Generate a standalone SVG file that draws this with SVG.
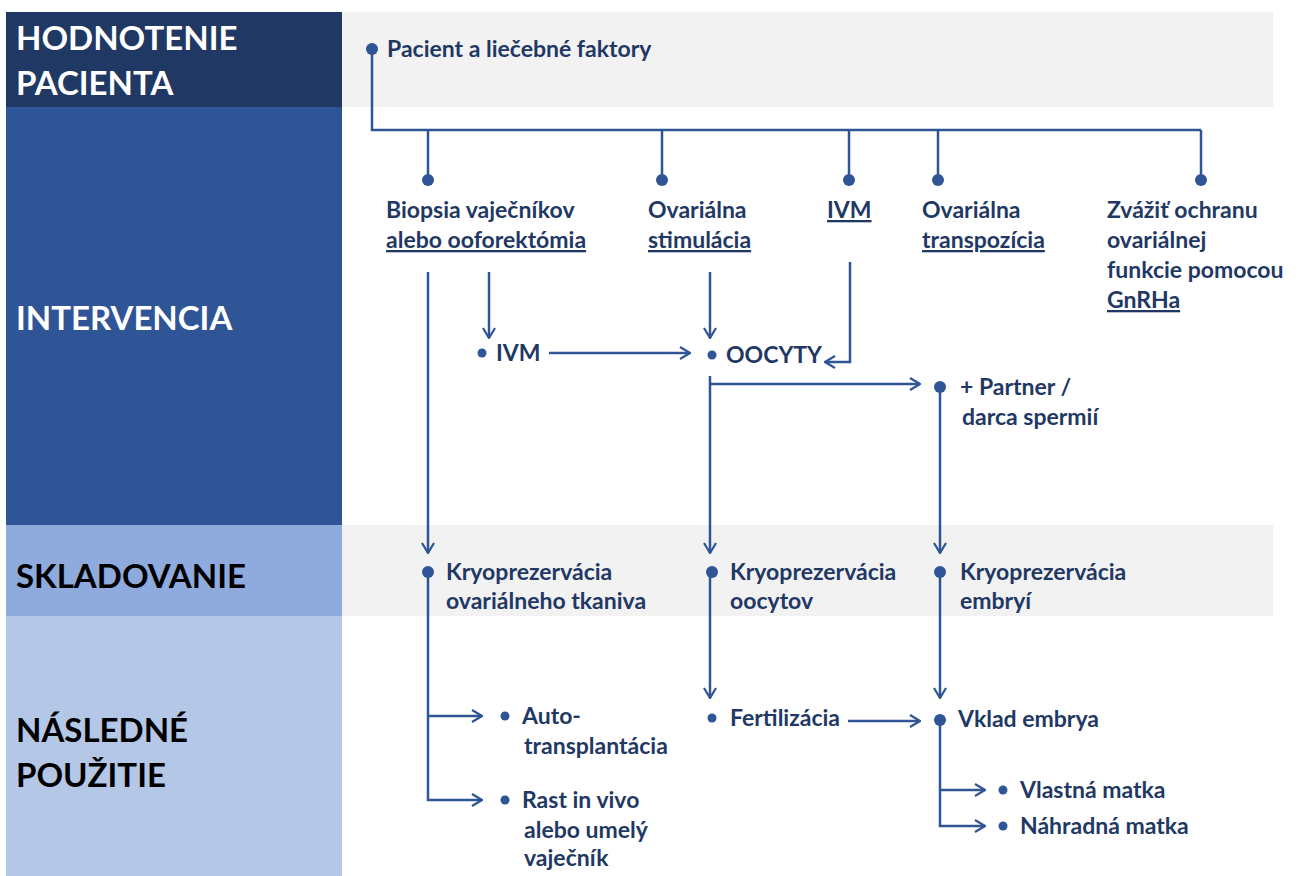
<svg xmlns="http://www.w3.org/2000/svg" width="1299" height="876" viewBox="0 0 1299 876">
<defs>
<marker id="arr" viewBox="0 0 12 14" refX="11" refY="7" markerWidth="12" markerHeight="14" markerUnits="userSpaceOnUse" orient="auto">
<path d="M1,1 L11,7 L1,13" fill="none" stroke="#2F5597" stroke-width="2.2"/>
</marker>
</defs>
<style>
.t{font-family:Lato,"Liberation Sans",sans-serif;font-weight:700;font-size:23px;fill:#1F3864}
.h{font-family:Lato,"Liberation Sans",sans-serif;font-weight:700;font-size:33px}
.u{text-decoration:underline}
.c{fill:none;stroke:#2F5597;stroke-width:2.5}
.a{fill:none;stroke:#2F5597;stroke-width:2.5;marker-end:url(#arr)}
.d{fill:#2F5597}
</style>
<rect width="1299" height="876" fill="#fff"/>
<g id="bands">
<rect x="342" y="12" width="931" height="95" fill="#F2F2F2"/>
<rect x="342" y="525" width="931" height="91" fill="#F2F2F2"/>
<rect x="6" y="12" width="336" height="95" fill="#203864"/>
<rect x="6" y="107" width="336" height="418" fill="#2F5597"/>
<rect x="6" y="525" width="336" height="91" fill="#8FAADC"/>
<rect x="6" y="616" width="336" height="260" fill="#B4C7E7"/>
</g>
<g id="section-labels">
<text class="h" x="16" y="50" fill="#fff">HODNOTENIE</text>
<text class="h" x="16" y="95" fill="#fff">PACIENTA</text>
<text class="h" x="16" y="330" fill="#fff">INTERVENCIA</text>
<text class="h" x="16" y="588" fill="#000">SKLADOVANIE</text>
<text class="h" x="16" y="742" fill="#000">NÁSLEDNÉ</text>
<text class="h" x="16" y="787" fill="#000">POUŽITIE</text>
</g>
<g id="connectors">
<path class="c" d="M372,49 V130 H1201 M428,130 V180 M662,130 V180 M849,130 V180 M938,130 V180 M1201,130 V180"/>
<path class="a" d="M428,272 V553"/>
<path class="a" d="M489,272 V338"/>
<path class="a" d="M549,353 H690"/>
<path class="a" d="M710,272 V338"/>
<path class="a" d="M850,262 V362 H825"/>
<path class="a" d="M710,376 V553"/>
<path class="a" d="M710,384 H920"/>
<path class="a" d="M940,387 V553"/>
<path class="a" d="M428,572 V800 H482"/>
<path class="a" d="M428,716 H482"/>
<path class="a" d="M710,572 V698"/>
<path class="a" d="M848,721 H920"/>
<path class="a" d="M940,572 V698"/>
<path class="a" d="M940,720 V826 H985"/>
<path class="a" d="M940,790 H985"/>
</g>
<g id="n-pacient"><circle class="d" cx="372" cy="49" r="6"/><text class="t" x="387" y="57">Pacient a liečebné faktory</text></g>
<g id="n-biopsia"><circle class="d" cx="428" cy="180" r="6"/><text class="t" x="386" y="218">Biopsia vaječníkov</text><text class="t u" x="386" y="248">alebo ooforektómia</text></g>
<g id="n-stimulacia"><circle class="d" cx="662" cy="180" r="6"/><text class="t" x="648" y="218">Ovariálna</text><text class="t u" x="648" y="248">stimulácia</text></g>
<g id="n-ivm-top"><circle class="d" cx="849" cy="180" r="6"/><text class="t u" x="827" y="218">IVM</text></g>
<g id="n-transpozicia"><circle class="d" cx="938" cy="180" r="6"/><text class="t" x="922" y="218">Ovariálna</text><text class="t u" x="922" y="248">transpozícia</text></g>
<g id="n-gnrha"><circle class="d" cx="1201" cy="180" r="6"/><text class="t" x="1107" y="218">Zvážiť ochranu</text><text class="t" x="1107" y="248">ovariálnej</text><text class="t" x="1107" y="278">funkcie pomocou</text><text class="t u" x="1107" y="308">GnRHa</text></g>
<g id="n-ivm"><circle class="d" cx="482" cy="353" r="4.5"/><text class="t" x="496" y="361">IVM</text></g>
<g id="n-oocyty"><circle class="d" cx="712" cy="355" r="4.5"/><text class="t" x="726" y="363">OOCYTY</text></g>
<g id="n-partner"><circle class="d" cx="940" cy="387" r="6"/><text class="t" x="960" y="395">+ Partner /</text><text class="t" x="962" y="425">darca spermií</text></g>
<g id="n-kryo-tkaniva"><circle class="d" cx="428" cy="572" r="6"/><text class="t" x="446" y="580">Kryoprezervácia</text><text class="t" x="446" y="609">ovariálneho tkaniva</text></g>
<g id="n-kryo-oocytov"><circle class="d" cx="712" cy="572" r="6"/><text class="t" x="730" y="580">Kryoprezervácia</text><text class="t" x="730" y="609">oocytov</text></g>
<g id="n-kryo-embryi"><circle class="d" cx="940" cy="572" r="6"/><text class="t" x="960" y="580">Kryoprezervácia</text><text class="t" x="960" y="609">embryí</text></g>
<g id="n-auto"><circle class="d" cx="505" cy="716" r="4.5"/><text class="t" x="522" y="724">Auto-</text><text class="t" x="524" y="754">transplantácia</text></g>
<g id="n-rast"><circle class="d" cx="505" cy="800" r="4.5"/><text class="t" x="522" y="808">Rast in vivo</text><text class="t" x="524" y="838">alebo umelý</text><text class="t" x="524" y="866">vaječník</text></g>
<g id="n-fertilizacia"><circle class="d" cx="712" cy="718" r="4.5"/><text class="t" x="730" y="726">Fertilizácia</text></g>
<g id="n-vklad"><circle class="d" cx="940" cy="720" r="6"/><text class="t" x="958" y="727">Vklad embrya</text></g>
<g id="n-vlastna"><circle class="d" cx="1003" cy="790" r="4.5"/><text class="t" x="1020" y="798">Vlastná matka</text></g>
<g id="n-nahradna"><circle class="d" cx="1003" cy="826" r="4.5"/><text class="t" x="1020" y="834">Náhradná matka</text></g>
</svg>
